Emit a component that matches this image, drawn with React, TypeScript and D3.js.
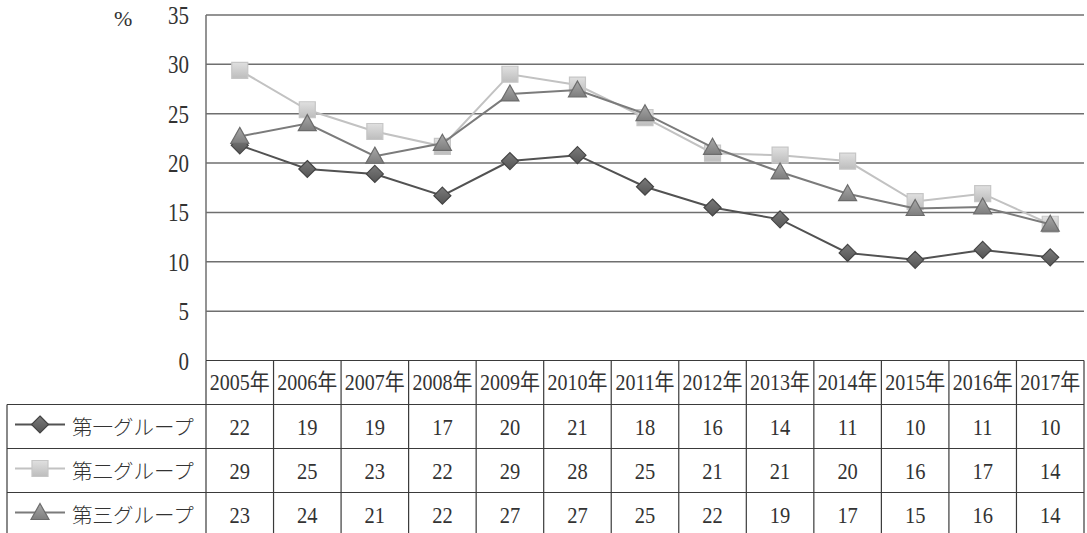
import React from "react";
import * as d3 from "d3";

// Yearly shares (%) for the three groups, 2005–2017
const years = [
  "2005年", "2006年", "2007年", "2008年", "2009年", "2010年", "2011年",
  "2012年", "2013年", "2014年", "2015年", "2016年", "2017年",
];
const group1 = [21.8, 19.4, 18.9, 16.7, 20.2, 20.8, 17.6, 15.5, 14.3, 10.9, 10.2, 11.2, 10.45];
const group2 = [29.4, 25.4, 23.2, 21.7, 29.0, 27.9, 24.6, 21.0, 20.8, 20.2, 16.1, 16.9, 13.8];
const group3 = [22.7, 24.0, 20.7, 22.0, 27.0, 27.4, 25.0, 21.6, 19.1, 16.9, 15.4, 15.55, 13.8];
const seriesNames = ["第一グループ", "第二グループ", "第三グループ"];
const yTicks = [0, 5, 10, 15, 20, 25, 30, 35];

const W = 1087;
const H = 533;
const plotLeft = 206;
const plotRight = 1084;
const plotTop = 15;
const plotBottom = 360.5;
const tableLeft = 7;
const rowH = 44;

const NUM_FONT = "'Liberation Serif', 'Noto Sans CJK JP', serif";
const JP_FONT = "'Noto Sans CJK JP', 'Noto Sans', sans-serif";

type Marker = "diamond" | "square" | "triangle";

const series = [
  { name: seriesNames[0], values: group1, marker: "diamond" as Marker, line: "#525252", fillTop: "#7a7a7a", fillBot: "#555555", stroke: "#444444" },
  { name: seriesNames[1], values: group2, marker: "square" as Marker, line: "#c2c2c2", fillTop: "#e0e0e0", fillBot: "#bdbdbd", stroke: "#c6c6c6" },
  { name: seriesNames[2], values: group3, marker: "triangle" as Marker, line: "#7b7b7b", fillTop: "#a8a8a8", fillBot: "#7e7e7e", stroke: "#6c6c6c" },
];

function markerPath(m: Marker): string {
  const p = d3.path();
  if (m === "diamond") {
    p.moveTo(0, -8.5); p.lineTo(8.5, 0); p.lineTo(0, 8.5); p.lineTo(-8.5, 0); p.closePath();
  } else if (m === "square") {
    p.rect(-8, -8, 16, 16);
  } else {
    p.moveTo(0, -9); p.lineTo(9, 7); p.lineTo(-9, 7); p.closePath();
  }
  return p.toString();
}

// Text drawn slightly taller than the font's natural proportions
function Txt(props: { x: number; y: number; anchor?: string; size: number; family: string; children: React.ReactNode; sy?: number; fill?: string; weight?: number }) {
  const { x, y, anchor = "middle", size, family, children, sy = 1.15, fill = "#333", weight = 400 } = props;
  return (
    <text
      transform={`translate(${x},${y}) scale(1,${sy})`}
      textAnchor={anchor}
      dominantBaseline="central"
      fontFamily={family}
      fontSize={size}
      fontWeight={weight}
      fill={fill}
    >
      {children}
    </text>
  );
}

export default function App() {
  const x = d3.scaleBand<string>().domain(years).range([plotLeft, plotRight]).padding(0);
  const y = d3.scaleLinear().domain([0, 35]).range([plotBottom, plotTop]);
  const cx = (yr: string) => (x(yr) as number) + x.bandwidth() / 2;

  const line = d3
    .line<number>()
    .x((_, i) => cx(years[i]))
    .y((v) => y(v));

  const headerTop = plotBottom;
  const headerBottom = headerTop + rowH;
  const rowTops = series.map((_, i) => headerBottom + i * rowH);
  const tableBottom = headerBottom + series.length * rowH;
  const boundaries = years.map((yr) => x(yr) as number).concat([plotRight]);

  return (
    <svg
      width={W}
      height={H}
      viewBox={`0 0 ${W} ${H}`}
      style={{ position: "absolute", left: 0, top: 0, background: "#fff" }}
    >
      <defs>
        {series.map((s, i) => (
          <linearGradient key={i} id={`grad${i}`} x1="0" y1="0" x2="0" y2="1">
            <stop offset="0%" stopColor={s.fillTop} />
            <stop offset="100%" stopColor={s.fillBot} />
          </linearGradient>
        ))}
      </defs>
      <rect x={0} y={0} width={W} height={H} fill="#fff" />

      {/* unit label */}
      <Txt x={114} y={18} anchor="start" size={22} family={NUM_FONT} sy={1}>%</Txt>

      {/* gridlines and y tick labels */}
      {yTicks.map((t) => (
        <g key={t}>
          {t > 0 && (
            <line x1={plotLeft} x2={plotRight} y1={y(t)} y2={y(t)} stroke="#6f6f6f" strokeWidth={1.5} />
          )}
          <Txt x={189} y={y(t) + 1} anchor="end" size={21} family={NUM_FONT}>{t}</Txt>
        </g>
      ))}

      {/* left edge of plot */}
      <line x1={plotLeft} x2={plotLeft} y1={plotTop} y2={headerTop} stroke="#6f6f6f" strokeWidth={1.5} />

      {/* series lines and markers */}
      {series.map((s, si) => (
        <g key={si}>
          <path d={line(s.values) ?? ""} fill="none" stroke={s.line} strokeWidth={2} />
          {s.values.map((v, i) => (
            <path
              key={i}
              d={markerPath(s.marker)}
              transform={`translate(${cx(years[i])},${y(v)})`}
              fill={`url(#grad${si})`}
              stroke={s.stroke}
              strokeWidth={1.2}
            />
          ))}
        </g>
      ))}

      {/* data table */}
      <g stroke="#3a3a3a" strokeWidth={1.2} fill="none">
        <line x1={plotLeft} x2={plotRight} y1={headerTop} y2={headerTop} />
        {rowTops.map((t, i) => (
          <line key={i} x1={tableLeft} x2={plotRight} y1={t} y2={t} />
        ))}
        <line x1={tableLeft} x2={tableLeft} y1={headerBottom} y2={tableBottom} />
        {boundaries.map((b, i) => (
          <line key={i} x1={b} x2={b} y1={headerTop} y2={tableBottom} />
        ))}
      </g>

      {/* year header */}
      {years.map((yr) => (
        <Txt key={yr} x={cx(yr)} y={headerTop + rowH / 2} size={20} family={NUM_FONT} sy={1.12}>{yr}</Txt>
      ))}

      {/* legend keys and values */}
      {series.map((s, si) => {
        const mid = rowTops[si] + rowH / 2;
        return (
          <g key={si}>
            <line x1={15} x2={65} y1={mid - 2} y2={mid - 2} stroke={s.line} strokeWidth={2} />
            <path
              d={markerPath(s.marker)}
              transform={`translate(40,${mid - 2})`}
              fill={`url(#grad${si})`}
              stroke={s.stroke}
              strokeWidth={1.2}
            />
            <Txt x={72} y={mid - 1} anchor="start" size={20.5} family={JP_FONT} sy={1} weight={300}>{s.name}</Txt>
            {s.values.map((v, i) => (
              <Txt key={i} x={cx(years[i])} y={mid} size={20.5} family={NUM_FONT}>{Math.round(v)}</Txt>
            ))}
          </g>
        );
      })}
    </svg>
  );
}
